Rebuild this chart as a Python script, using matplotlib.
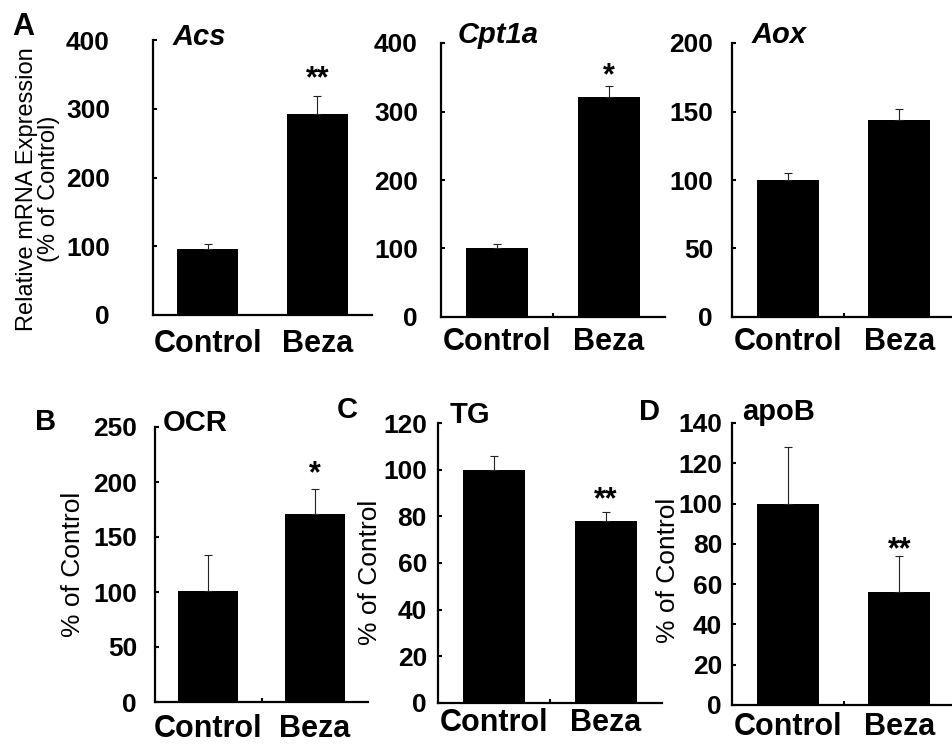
import matplotlib.pyplot as plt

plt.rcParams["font.family"] = ["Liberation Sans", "DejaVu Sans"]

W, H = 952, 747

groups = ["Control", "Beza"]

acs_mean = [96, 292]
acs_err = [7, 26]
acs_stars = ["", "**"]

cpt1a_mean = [100, 321]
cpt1a_err = [6, 16]
cpt1a_stars = ["", "*"]

aox_mean = [100, 144]
aox_err = [5, 8]
aox_stars = ["", ""]

ocr_mean = [101, 171]
ocr_err = [33, 23]
ocr_stars = ["", "*"]

tg_mean = [100, 78]
tg_err = [6, 4]
tg_stars = ["", "**"]

apob_mean = [100, 56]
apob_err = [28, 18]
apob_stars = ["", "**"]


def px_rect(x0, x1, y0, y1):
    return [x0 / W, 1 - y1 / H, (x1 - x0) / W, (y1 - y0) / H]


def fig_text(fig, x, y, s, **kw):
    fig.text(x / W, 1 - y / H, s, **kw)


def draw_panel(fig, rect, means, errs, stars, ymax, ystep, ypad, xpad,
               star_gap, mid_tick=True):
    ax = fig.add_axes(px_rect(*rect))
    x = list(range(len(groups)))
    ax.bar(x, means, width=0.56, color="black")
    ax.errorbar(x, means, yerr=[[0] * len(errs), errs], fmt="none",
                ecolor="#222222", elinewidth=0.8, capsize=3, capthick=0.8)
    for xi, m, e, s in zip(x, means, errs, stars):
        if s:
            ax.annotate(s, (xi, m + e), xytext=(0, star_gap * 0.72),
                        textcoords="offset points", ha="center",
                        va="baseline", fontsize=22, fontweight="bold")

    ax.set_xlim(-0.5, 1.5)
    ax.set_ylim(0, ymax)
    ax.set_yticks(range(0, ymax + 1, ystep))
    ax.set_xticks(x)
    ax.set_xticklabels(groups)
    if mid_tick:
        ax.set_xticks([0.5], minor=True)
    ax.tick_params(axis="x", which="major", length=0, pad=xpad * 0.72,
                   labelsize=22)
    ax.tick_params(axis="x", which="minor", direction="in", length=3,
                   width=1.5)
    ax.tick_params(axis="y", direction="in", length=3, width=1.5,
                   pad=ypad * 0.72, labelsize=19)
    for lab in ax.get_xticklabels() + ax.get_yticklabels():
        lab.set_fontweight("bold")

    for side in ["top", "right"]:
        ax.spines[side].set_visible(False)
    for side in ["left", "bottom"]:
        ax.spines[side].set_linewidth(1.6)
    return ax


fig = plt.figure(figsize=(W / 100, H / 100), dpi=100)

# top row: mRNA expression
draw_panel(fig, (153, 372, 40, 315), acs_mean, acs_err, acs_stars,
           400, 100, 43, 14, 9, mid_tick=False)
draw_panel(fig, (441, 665, 43, 317), cpt1a_mean, cpt1a_err, cpt1a_stars,
           400, 100, 23, 10, 2)
draw_panel(fig, (732, 955, 43, 317), aox_mean, aox_err, aox_stars,
           200, 50, 19, 10, 2)

# bottom row
draw_panel(fig, (155, 368, 427, 702), ocr_mean, ocr_err, ocr_stars,
           250, 50, 18, 12, 6)
draw_panel(fig, (438, 662, 423, 703), tg_mean, tg_err, tg_stars,
           120, 20, 11, 5, 3)
draw_panel(fig, (732, 955, 423, 705), apob_mean, apob_err, apob_stars,
           140, 20, 10, 7, -2)

# titles
fig_text(fig, 173, 45, "Acs", fontsize=21, fontweight="bold", style="italic")
fig_text(fig, 458, 43, "Cpt1a", fontsize=21, fontweight="bold", style="italic")
fig_text(fig, 752, 43, "Aox", fontsize=21, fontweight="bold", style="italic")
fig_text(fig, 163, 431, "OCR", fontsize=21, fontweight="bold")
fig_text(fig, 450, 423, "TG", fontsize=21, fontweight="bold")
fig_text(fig, 742, 420, "apoB", fontsize=21, fontweight="bold")

# panel letters
fig_text(fig, 12, 35, "A", fontsize=22, fontweight="bold")
fig_text(fig, 35, 430, "B", fontsize=21, fontweight="bold")
fig_text(fig, 337, 418, "C", fontsize=21, fontweight="bold")
fig_text(fig, 639, 420, "D", fontsize=21, fontweight="bold")

# y labels
fig_text(fig, 38, 189, "Relative mRNA Expression\n(% of Control)",
         rotation=90, ha="center", va="center", fontsize=17, linespacing=1.05)
fig_text(fig, 73, 564, "% of Control", rotation=90, ha="center",
         va="center", fontsize=19)
fig_text(fig, 370, 572, "% of Control", rotation=90, ha="center",
         va="center", fontsize=19)
fig_text(fig, 668, 570, "% of Control", rotation=90, ha="center",
         va="center", fontsize=19)

fig.savefig("out.png", dpi=100)
